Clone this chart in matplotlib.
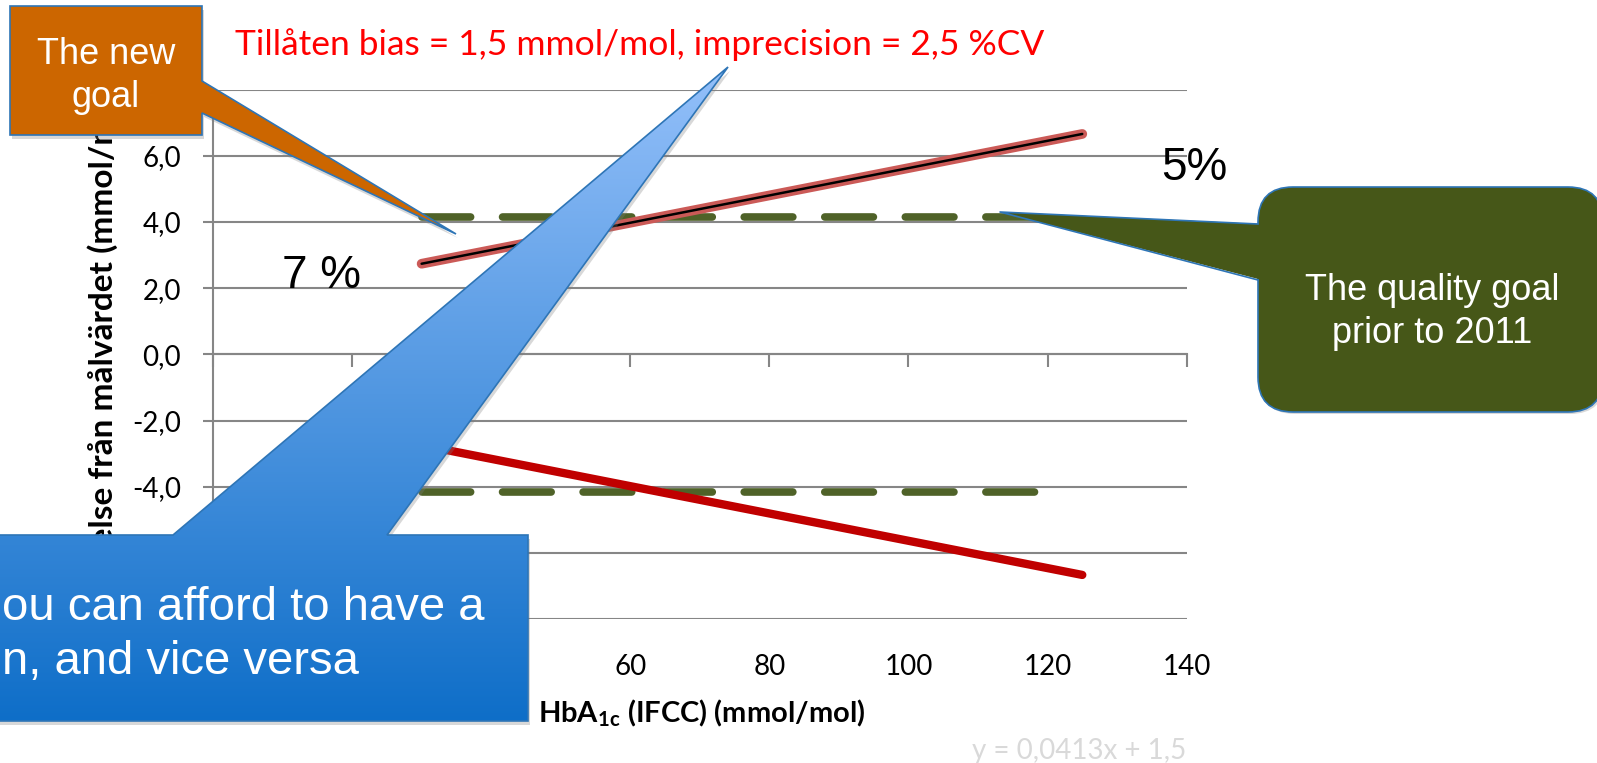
import numpy as np
import matplotlib.pyplot as plt
from matplotlib.patches import Polygon, FancyBboxPatch

# data
x_bias = [30, 125]
y_upper = [2.74, 6.66]      # y = 0,0413x + 1,5
y_lower = [-2.74, -6.66]
x_goal = [30, 120]
goal_hi = [4.15, 4.15]
goal_lo = [-4.15, -4.15]
x_ticks = [0, 20, 40, 60, 80, 100, 120, 140]
y_ticks = [-8, -6, -4, -2, 0, 2, 4, 6, 8]
y_ticklabels = ['-8,0', '-6,0', '-4,0', '-2,0', '0,0', '2,0', '4,0', '6,0', '8,0']

title = 'Tillåten bias = 1,5 mmol/mol, imprecision = 2,5 %CV'
equation = 'y = 0,0413x + 1,5'

plt.rcParams['lines.scale_dashes'] = False
plt.rcParams['mathtext.fontset'] = 'custom'
plt.rcParams['mathtext.bf'] = 'Lato:bold'
plt.rcParams['mathtext.rm'] = 'Lato'

W, H = 1597, 763
grid_c = '#868686'
fig = plt.figure(figsize=(W / 100, H / 100), dpi=100)
ax = fig.add_axes([213 / W, 143.7 / H, 973.6 / W, 529.7 / H])
ax.set_xlim(0, 140)
ax.set_ylim(-8, 8)
for s in ['top', 'right', 'bottom']:
    ax.spines[s].set_visible(False)
ax.spines['left'].set_color(grid_c)
ax.spines['left'].set_linewidth(1.5)
ax.set_yticks(y_ticks, y_ticklabels, fontfamily='Lato', fontsize=20)
ax.tick_params(axis='y', length=7, color=grid_c, width=1.5, pad=16)
ax.grid(axis='y', color=grid_c, lw=1.5)
ax.set_xticks(x_ticks, [str(v) for v in x_ticks], fontfamily='Lato', fontsize=20)
ax.tick_params(axis='x', length=0, pad=25)

sec = ax.secondary_xaxis(0.5)
sec.set_xticks(x_ticks)
sec.tick_params(direction='in', length=9, color=grid_c, width=1.5,
                labeltop=False, labelbottom=False)
sec.spines['top'].set_color(grid_c)
sec.spines['top'].set_linewidth(1.5)

# goal lines
ax.plot(x_goal, goal_hi, color='#4F6228', lw=5.5, dashes=(35, 23), dash_capstyle='round')
ax.plot(x_goal, goal_lo, color='#4F6228', lw=5.5, dashes=(35, 23), dash_capstyle='round')
# bias lines
ax.plot(x_bias, y_upper, color='#CB5A57', lw=7, solid_capstyle='round')
ax.plot(x_bias, y_upper, color='black', lw=1.8, solid_capstyle='round')
ax.plot(x_bias, y_lower, color='#C00000', lw=6, solid_capstyle='round')

ax.text(-0.113, 0.5, 'Avvikelse från målvärdet (mmol/mol)', transform=ax.transAxes,
        rotation=90, ha='center', va='center', fontfamily='Lato',
        fontweight='bold', fontsize=24)

fig.text(702 / W, 1 - 722 / H, r'HbA$_{\mathbf{1c}}$ (IFCC) (mmol/mol)', ha='center',
         va='baseline', fontfamily='Lato', fontweight='bold', fontsize=21)
fig.text(639.5 / W, 1 - 45 / H, title, color='#FF0000', fontsize=25.5,
         fontfamily='Lato', ha='center', va='center')
fig.text(1186 / W, 1 - 759 / H, equation, color='#D9D9D9', fontsize=20,
         fontfamily='Lato', ha='right', va='baseline')
fig.text(321 / W, 1 - 288 / H, '7 %', fontsize=33, fontfamily='Liberation Sans',
         ha='center', va='baseline')
fig.text(1194 / W, 1 - 180 / H, '5%', fontsize=33, fontfamily='Liberation Sans',
         ha='center', va='baseline')

# callouts, drawn in figure pixels
ov = fig.add_axes([0, 0, 1, 1], zorder=10)
ov.set_axis_off()
edge = '#2E75B6'


def shadow(pts):
    ov.add_patch(Polygon([(px + 2, py + 4) for px, py in pts], closed=True,
                         fc='#7F7F7F', ec='none', alpha=0.3, zorder=0.5))


orange = [(10, 6), (202, 6), (202, 81), (456, 234), (202, 113), (202, 135), (10, 135)]
shadow(orange)
ov.add_patch(Polygon(orange, closed=True, fc='#CC6600', ec=edge, lw=1.2, zorder=2))
ov.text(106, 107, 'The new\ngoal', color='white', fontsize=26, fontfamily='Liberation Sans',
        ha='center', va='baseline', linespacing=1.3, zorder=3)

blue = [(-5, 535), (173, 535), (728, 67), (387, 535), (528, 535), (528, 721), (-5, 721)]
shadow(blue)
n = 256
t = np.linspace(0, 1, n)[:, None]
c0 = np.array([148, 192, 250]) / 255
c1 = np.array([14, 110, 200]) / 255
grad = (c0 * (1 - t) + c1 * t)[:, None, :]
im = ov.imshow(grad, extent=[-5, 735, 722, 66], aspect='auto', interpolation='bilinear',
               zorder=1.5)
bpatch = Polygon(blue, closed=True, fc='none', ec=edge, lw=1.2, zorder=2)
ov.add_patch(bpatch)
im.set_clip_path(bpatch)
ov.text(2, 674, 'ou can afford to have a\nn, and vice versa', color='white', fontsize=34,
        fontfamily='Liberation Sans', ha='left', va='baseline', linespacing=1.3, zorder=3)

green_c = '#465718'
ov.add_patch(FancyBboxPatch((1260, 189), 345, 225, boxstyle='round,pad=0,rounding_size=35',
                            fc='#7F7F7F', ec='none', alpha=0.3, zorder=0.5))
ov.add_patch(FancyBboxPatch((1258, 187), 345, 225, boxstyle='round,pad=0,rounding_size=35',
                            fc=green_c, ec=edge, lw=1.2, zorder=2))
ov.add_patch(Polygon([(1262, 224), (1000, 212), (1262, 280)], closed=True, fc=green_c,
                     ec='none', zorder=2.1))
ov.plot([1258, 1000, 1258], [224, 212, 280], color=edge, lw=1.2, zorder=2.2)
ov.text(1432, 343, 'The quality goal\nprior to 2011', color='white', fontsize=26,
        fontfamily='Liberation Sans', ha='center', va='baseline', linespacing=1.3, zorder=3)

ov.set_xlim(0, W)
ov.set_ylim(H, 0)

fig.savefig('out.png', dpi=100)
